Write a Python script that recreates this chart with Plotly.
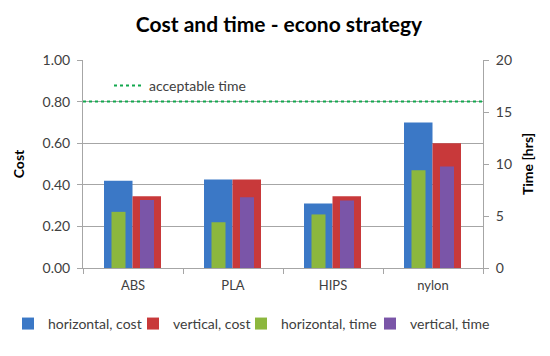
import plotly.graph_objects as go

categories = ["ABS", "PLA", "HIPS", "nylon"]
horizontal_cost = [0.42, 0.425, 0.31, 0.70]
vertical_cost = [0.345, 0.425, 0.345, 0.60]
horizontal_time = [5.4, 4.4, 5.15, 9.4]
vertical_time = [6.55, 6.8, 6.5, 9.75]
acceptable_time = 16

FONT = "Lato"
fig = go.Figure()

fig.add_trace(go.Bar(x=categories, y=horizontal_cost, name="horizontal, cost",
                     marker=dict(color="#3B78C6", line=dict(width=0)),
                     offset=-0.29, width=0.285, yaxis="y", legend="legend", showlegend=True))
fig.add_trace(go.Bar(x=categories, y=vertical_cost, name="vertical, cost",
                     marker=dict(color="#C8393A", line=dict(width=0)),
                     offset=-0.005, width=0.285, yaxis="y", legend="legend3", showlegend=True))
fig.add_trace(go.Bar(x=categories, y=horizontal_time, name="horizontal, time",
                     marker=dict(color="#8CB73E", line=dict(width=0)),
                     offset=-0.215, width=0.14, yaxis="y2", legend="legend4", showlegend=True))
fig.add_trace(go.Bar(x=categories, y=vertical_time, name="vertical, time",
                     marker=dict(color="#7A55A8", line=dict(width=0)),
                     offset=0.07, width=0.14, yaxis="y2", legend="legend5", showlegend=True))

fig.add_shape(type="line", xref="x domain", x0=0, x1=1, yref="y2",
              y0=acceptable_time, y1=acceptable_time,
              line=dict(color="#12A84E", width=2, dash="dot"),
              showlegend=True, name="acceptable time", legend="legend2")

leg_font = dict(size=14, color="#404040")
leg_y = -0.269
def bottom_legend(x):
    return dict(orientation="h", x=x, xanchor="left", y=leg_y,
                yanchor="middle", font=leg_font, itemwidth=30, bgcolor="rgba(0,0,0,0)")

fig.update_layout(
    width=542, height=348,
    showlegend=True,
    margin=dict(l=75, r=67, t=52, b=88, autoexpand=False),
    paper_bgcolor="white", plot_bgcolor="white",
    barmode="overlay",
    font=dict(family=FONT, size=13, color="#404040"),
    title=dict(text="<b>Cost and time - econo strategy</b>", x=0.5, xanchor="center",
               y=0.951, yanchor="middle", font=dict(family=FONT, size=21, color="black")),
    xaxis=dict(type="category", showline=True, linecolor="#A6A6A6", linewidth=1,
               ticks="outside", tickson="boundaries", ticklen=5, tickcolor="#A6A6A6",
               showgrid=False, automargin=False, ticklabelstandoff=5,
               tickfont=dict(size=13, color="#404040")),
    yaxis=dict(range=[0, 1], tickvals=[0, 0.2, 0.4, 0.6, 0.8, 1.0], tickformat=".2f",
               showline=True, linecolor="#A6A6A6", ticks="outside", ticklen=5,
               tickcolor="#A6A6A6", showgrid=True, gridcolor="#A6A6A6", gridwidth=1,
               zeroline=False, automargin=False, ticklabelstandoff=4,
               title=dict(text="<b>Cost</b>", font=dict(size=14, color="black"), standoff=14),
               tickfont=dict(size=14, color="#404040")),
    yaxis2=dict(range=[0, 20], tickvals=[0, 5, 10, 15, 20], overlaying="y", side="right",
                showline=True, linecolor="#A6A6A6", ticks="outside", ticklen=5,
                tickcolor="#A6A6A6", showgrid=False, zeroline=False, automargin=False,
                ticklabelstandoff=4,
                title=dict(text="<b>Time [hrs]</b>", font=dict(size=14, color="black"), standoff=12),
                tickfont=dict(size=14, color="#404040")),
    legend=bottom_legend(-0.1875),
    legend3=bottom_legend(0.125),
    legend4=bottom_legend(0.395),
    legend5=bottom_legend(0.7175),
    legend2=dict(x=0.065, xanchor="left", y=0.875, yanchor="middle", bgcolor="rgba(0,0,0,0)",
                 font=dict(size=14, color="#404040")),
)

fig.write_html("out.html")
